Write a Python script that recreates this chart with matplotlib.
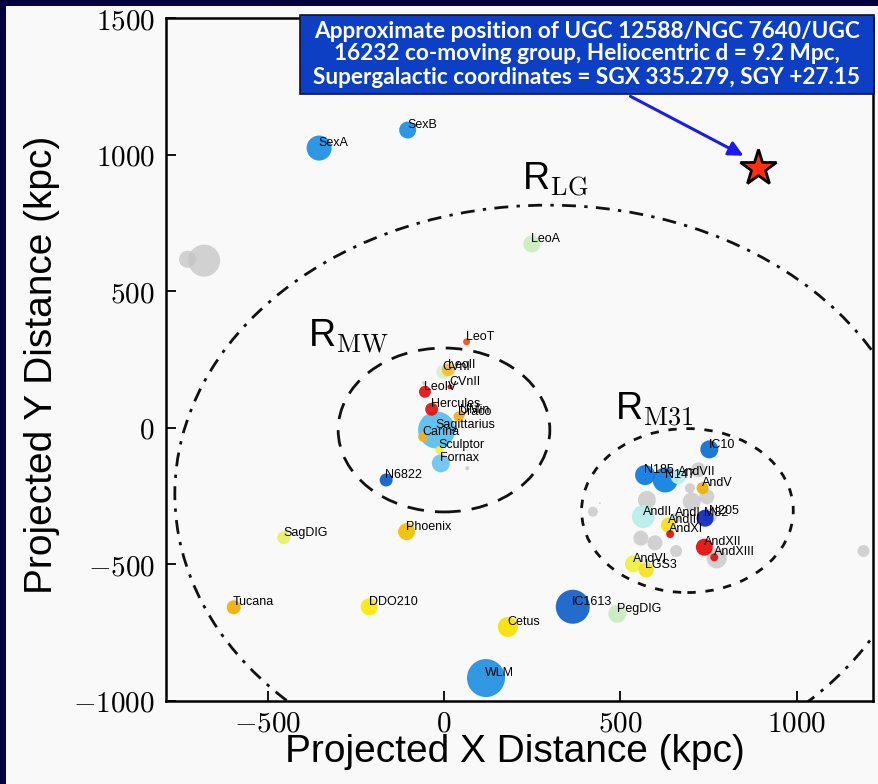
import matplotlib
matplotlib.use("Agg")
import matplotlib.pyplot as plt
from matplotlib.patches import Rectangle, Ellipse, FancyArrowPatch
from matplotlib.ticker import FuncFormatter

plt.rcParams['mathtext.fontset'] = 'cm'
plt.rcParams['font.family'] = ['Liberation Sans', 'DejaVu Sans']

GRAY = '#c4c4c4'

# Local Group galaxies: projected positions (kpc), symbol diameter (px), colour
names = ["SexA", "SexB", "LeoA", "", "",
         "LeoT", "CVnI", "LeoII", "", "LeoIV", "CVnII", "Hercules", "UMin", "Draco",
         "Sagittarius", "Carina", "Sculptor", "Fornax", "", "N6822",
         "Phoenix", "SagDIG", "Tucana", "DDO210", "Cetus", "IC1613", "PegDIG", "WLM",
         "", "", "", "", "", "", "", "", "", "", "", "",
         "IC10", "N185", "N147", "AndVII", "AndV", "AndII", "AndI", "N205", "M32",
         "AndIII", "AndXI", "AndXII", "AndXIII", "AndVI", "LGS3"]
x_kpc = [-354, -103, 249, -727, -680,
         64, -2, 12, -57, -54, 17, -35, 48, 41,
         -21, -59, -13, -9, 66, -164,
         -106, -454, -596, -212, 181, 365, 491, 119,
         422, 442, 575, 697, 702, 745, 721, 558, 598, 658, 773, 1189,
         752, 570, 627, 664, 733, 565, 658, 754, 740,
         636, 641, 738, 766, 537, 573]
y_kpc = [1024, 1090, 673, 617, 612,
         315, 205, 212, 164, 132, 150, 68, 48, 41,
         -8, -33, -81, -130, -148, -191,
         -380, -402, -657, -655, -729, -655, -681, -916,
         -307, -275, -264, -221, -270, -252, -154, -404, -421, -451, -478, -451,
         -79, -173, -191, -179, -221, -325, -330, -323, -331,
         -356, -389, -437, -474, -498, -520]
diam = [25, 17, 17, 17, 32,
        7, 14, 13, 4, 12, 5, 13, 8, 10,
        37, 10, 8, 18, 4, 13,
        17, 13, 14, 17, 20, 34, 18, 38,
        10, 2, 18, 10, 18, 15, 15, 15, 15, 12, 20, 12,
        18, 20, 25, 15, 12, 23, 10, 14, 17,
        15, 8, 17, 8, 17, 15]
colors = ['#1a8fe3', '#1a8fe3', '#c8eebc', GRAY, GRAY,
          '#f05010', '#d8f0c8', '#f0c030', GRAY, '#e01010', '#b01010', '#e01010', '#f0b020', '#f0b020',
          '#55bfee', '#f0b020', '#f8f020', '#6cc4ee', GRAY, '#0a5cc8',
          '#f0c000', '#e8f060', '#f0b000', '#ffe800', '#f8e000', '#1060c8', '#c8ecc0', '#2090e0',
          GRAY, GRAY, GRAY, GRAY, GRAY, GRAY, GRAY, GRAY, GRAY, GRAY, GRAY, GRAY,
          '#0a6ed0', '#0a78e0', '#0a80e0', '#b8f0f0', '#f0b000', '#b8eee8', GRAY, GRAY, '#0a28c0',
          '#f8e010', '#e01010', '#e80808', '#e01010', '#f0f040', '#f8e020']

# Characteristic radii: centre (kpc) and radius (kpc)
radii = {"MW": (0, -8, 300), "M31": (690, -303, 300), "LG": (295, -243, 1058)}

# Co-moving group marker (kpc)
group_x, group_y = 890, 951

xticks = [-500, 0, 500, 1000]
yticks = [-1000, -500, 0, 500, 1000, 1500]

W, H = 879, 784
fig = plt.figure(figsize=(W / 100, H / 100), dpi=100)
fig.patch.set_facecolor('#03003f')
fig.add_artist(Rectangle((6 / W, 0), 1, 1 - 6 / H, transform=fig.transFigure,
                         facecolor='#f9f9f9', edgecolor='none', zorder=-10))

ax = fig.add_axes([166 / W, 1 - 701 / H, (873 - 166) / W, (701 - 18) / H])
ax.set_facecolor('#f9f9f9')
ax.set_xlim(-788, 1216)
ax.set_ylim(-1000, 1500)

# galaxies, largest first so that small ones stay visible
order = sorted(range(len(names)), key=lambda i: (colors[i] != GRAY, -diam[i]))
for i in order:
    gray = colors[i] == GRAY
    ax.scatter(x_kpc[i], y_kpc[i], s=(diam[i] * 0.72) ** 2, color=colors[i],
               alpha=0.75 if gray else 0.92, edgecolors='none', zorder=3 if gray else 4)
for i in range(len(names)):
    if names[i]:
        ax.annotate(names[i], (x_kpc[i], y_kpc[i]), xytext=(-0.5, 3.5),
                    textcoords='offset points', ha='left', va='center',
                    fontsize=9, color='black', zorder=6)

styles = {"MW": dict(linestyle=(0, (6, 4))), "M31": dict(linestyle=(0, (3, 3.5))),
          "LG": dict(linestyle=(0, (5, 3, 1.2, 3)))}
for key, (cx, cy, r) in radii.items():
    ax.add_patch(Ellipse((cx, cy), 2 * r, 2 * r, fill=False,
                         edgecolor='#111111', linewidth=2.0, zorder=2, **styles[key]))

ax.text(-386, 296, r'R$_{\mathrm{MW}}$', fontsize=27, ha='left', va='baseline')
ax.text(485, 29, r'R$_{\mathrm{M31}}$', fontsize=27, ha='left', va='baseline')
ax.text(220, 870, r'R$_{\mathrm{LG}}$', fontsize=27, ha='left', va='baseline')

ax.plot(group_x, group_y, marker='*', markersize=27, markerfacecolor='#ff3010',
        markeredgecolor='black', markeredgewidth=2, zorder=7)

ax.xaxis.set_major_locator(plt.FixedLocator(xticks))
ax.yaxis.set_major_locator(plt.FixedLocator(yticks))
fmt = FuncFormatter(lambda v, p: r'$%d$' % v)
ax.xaxis.set_major_formatter(fmt)
ax.yaxis.set_major_formatter(fmt)
ax.tick_params(direction='in', length=7, width=1.3, labelsize=21, top=False, right=False)
ax.tick_params(axis='y', pad=8)
ax.tick_params(axis='x', pad=6)
for sp in ax.spines.values():
    sp.set_linewidth(1.8)

fig.text(515 / W, 1 - 752 / H, 'Projected X Distance (kpc)', fontsize=28,
         ha='center', va='center')
fig.text(42 / W, 1 - 365 / H, 'Projected Y Distance (kpc)', fontsize=28,
         ha='center', va='center', rotation=90)

# annotation box
bx0, bx1, by0, by1 = 300, 874, 15, 94
fig.add_artist(Rectangle((bx0 / W, 1 - by1 / H), (bx1 - bx0) / W, (by1 - by0) / H,
                         transform=fig.transFigure, facecolor='#0d3fc4',
                         edgecolor='#111133', linewidth=1.2, zorder=20))
lines = ["Approximate position of UGC 12588/NGC 7640/UGC",
         "16232 co-moving group, Heliocentric d = 9.2 Mpc,",
         "Supergalactic coordinates = SGX 335.279, SGY +27.15"]
for k, ln in enumerate(lines):
    fig.text((bx0 + bx1) / 2 / W, 1 - (31 + 23 * k) / H, ln, fontsize=16.3,
             family=['Lato', 'DejaVu Sans'], fontweight='bold', color='white',
             ha='center', va='center', zorder=21)

fig.add_artist(FancyArrowPatch((628 / W, 1 - 95 / H), (746 / W, 1 - 157 / H),
                               transform=fig.transFigure, arrowstyle='-|>',
                               mutation_scale=22, color='#1c1ce8', linewidth=2.2,
                               zorder=19))

fig.savefig('out.png', dpi=100, facecolor=fig.get_facecolor())
